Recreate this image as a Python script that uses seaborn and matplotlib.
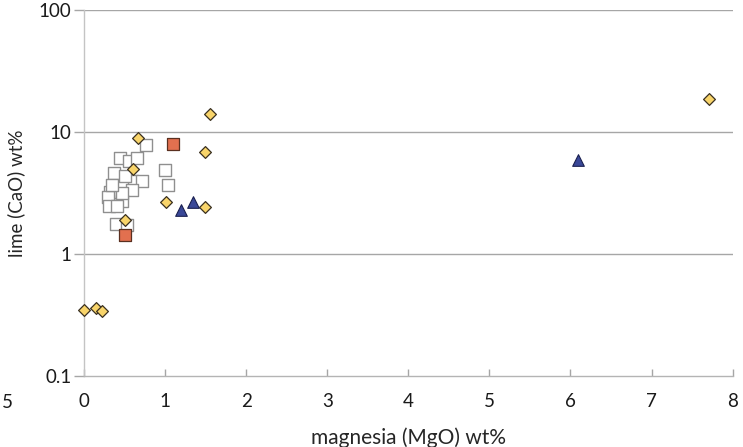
import matplotlib.pyplot as plt
import numpy as np
import pandas as pd
import seaborn as sns

# white squares
sq_open_mgo = [0.77, 0.44, 0.56, 0.66, 0.37, 0.59, 0.72, 0.47, 0.59, 0.32, 0.30,
               0.47, 0.31, 0.41, 0.47, 1.00, 1.04, 0.40, 0.53, 0.35, 0.51]
sq_open_cao = [7.8, 6.1, 5.8, 6.1, 4.6, 4.0, 4.0, 3.6, 3.35, 3.25, 2.95,
               2.7, 2.47, 2.47, 3.15, 4.9, 3.7, 1.78, 1.73, 3.7, 4.35]

# red squares
sq_red_mgo = [1.10, 0.51]
sq_red_cao = [7.95, 1.43]

# yellow diamonds
dia_mgo = [0.00, 0.15, 0.22, 0.67, 0.60, 0.51, 1.01, 1.55, 1.49, 1.49, 7.71]
dia_cao = [0.35, 0.36, 0.34, 8.9, 5.0, 1.9, 2.67, 14.0, 6.86, 2.43, 18.6]

# blue triangles
tri_mgo = [6.09, 1.20, 1.34]
tri_cao = [5.9, 2.3, 2.67]

y_ticks = [0.1, 1, 10, 100]
y_tick_labels = ["0.1", "1", "10", "100"]
x_ticks = [0, 1, 2, 3, 4, 5, 6, 7, 8]

df = pd.concat([
    pd.DataFrame({"mgo": sq_open_mgo, "cao": sq_open_cao, "group": "open"}),
    pd.DataFrame({"mgo": sq_red_mgo, "cao": sq_red_cao, "group": "red"}),
    pd.DataFrame({"mgo": dia_mgo, "cao": dia_cao, "group": "diamond"}),
    pd.DataFrame({"mgo": tri_mgo, "cao": tri_cao, "group": "triangle"}),
], ignore_index=True)

sns.set_style("white")
plt.rcParams["font.family"] = ["Lato", "DejaVu Sans"]
plt.rcParams["text.color"] = "#1a1a1a"
plt.rcParams["xtick.labelcolor"] = "#1a1a1a"
plt.rcParams["ytick.labelcolor"] = "#1a1a1a"

fig = plt.figure(figsize=(7.43, 4.47), dpi=100)
ax = fig.add_axes([0.113, 0.159, 0.873, 0.818])

styles = {
    "open": dict(marker="s", s=66, facecolor="white", edgecolor="#8f8f8f", lw=1.0),
    "red": dict(marker="s", s=66, facecolor="#e2704f", edgecolor="#5a3020", lw=0.9),
    "diamond": dict(marker="D", s=36, facecolor="#f8d46a", edgecolor="#3a3020", lw=0.9),
    "triangle": dict(marker="^", s=70, facecolor="#3a4898", edgecolor="#1a2050", lw=0.8),
}
for grp in ["open", "red", "diamond", "triangle"]:
    st = styles[grp]
    sns.scatterplot(data=df[df["group"] == grp], x="mgo", y="cao", ax=ax,
                    marker=st["marker"], s=st["s"], color=st["facecolor"],
                    edgecolor=st["edgecolor"], linewidth=st["lw"], legend=False,
                    zorder=3, clip_on=False)

ax.set_yscale("log")
ax.set_ylim(0.1, 100)
ax.set_xlim(0, 8)
ax.set_yticks(y_ticks)
ax.set_yticklabels(y_tick_labels)
ax.minorticks_off()
ax.set_xticks(x_ticks)
ax.set_xticklabels([str(v) for v in x_ticks])

for v in [1, 10, 100]:
    ax.axhline(v, color="#a6a6a6", lw=1.0, zorder=1)

for side in ["top", "right"]:
    ax.spines[side].set_visible(False)
ax.spines["left"].set_color("#c4c4c4")
ax.spines["bottom"].set_color("#b4b4b4")
for side in ["left", "bottom"]:
    ax.spines[side].set_linewidth(1.0)

ax.tick_params(axis="y", direction="out", length=7, width=1, color="#a6a6a6",
               labelsize=13.5, pad=2, left=True)
ax.tick_params(axis="x", direction="in", length=5, width=1, color="#a6a6a6",
               labelsize=13.5, pad=12, bottom=True)

ax.set_xlabel("magnesia (MgO) wt%", fontsize=15, labelpad=13)
ax.set_ylabel("lime (CaO) wt%", fontsize=13.5)
ax.yaxis.set_label_coords(-0.091, 0.5)

# stray clipped tick label at the far left of the original
ax.text(-0.118, -0.074, "5", transform=ax.transAxes, fontsize=13.5,
        ha="center", va="center")

fig.savefig("out.png", dpi=100)
